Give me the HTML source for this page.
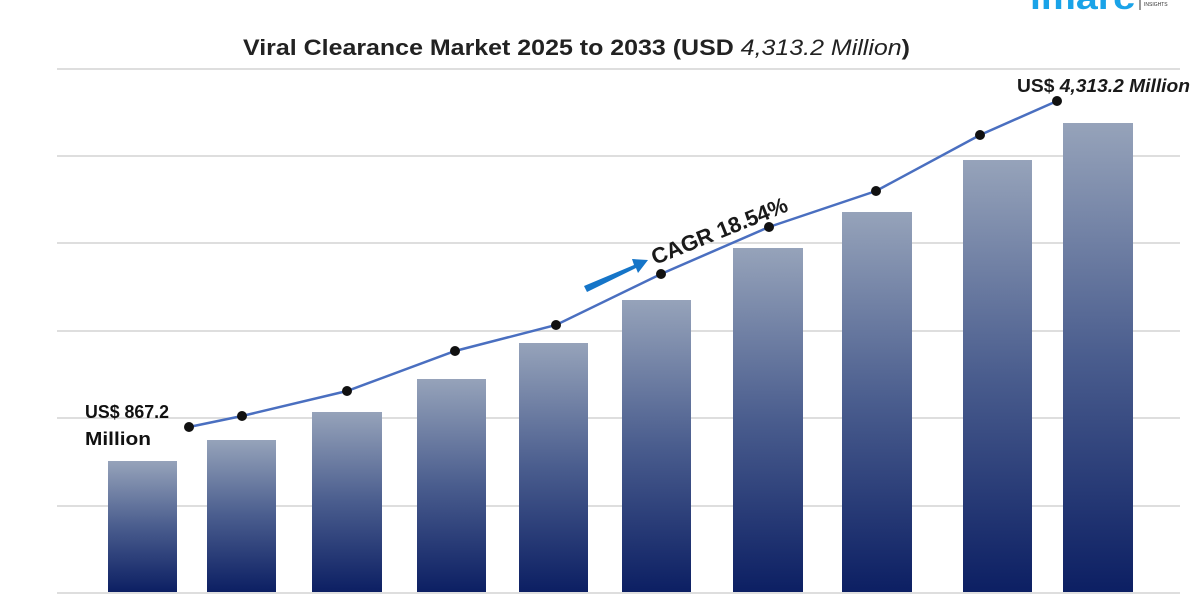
<!DOCTYPE html>
<html><head><style>
body{margin:0;background:#fff;}
svg{display:block;}
</style></head><body>
<svg width="1200" height="600" xmlns="http://www.w3.org/2000/svg">
<defs>
<linearGradient id="g" x1="0" y1="0" x2="0" y2="1">
<stop offset="0" stop-color="#96a3ba"/>
<stop offset="0.5" stop-color="#4a5d8e"/>
<stop offset="1" stop-color="#0c1f63"/>
</linearGradient>
</defs>
<rect width="1200" height="600" fill="#fff"/>
<text x="1030" y="9" font-family="Liberation Sans, sans-serif" font-size="32" font-weight="bold" fill="#1aa3e8" textLength="105" lengthAdjust="spacingAndGlyphs">imarc</text>
<line x1="1140" y1="0" x2="1140" y2="10" stroke="#333" stroke-width="1"/>
<text x="1144" y="6" font-family="Liberation Sans, sans-serif" font-size="5" fill="#333">INSIGHTS</text>
<text x="243" y="55" font-family="Liberation Sans, sans-serif" font-size="22" font-weight="bold" fill="#222" textLength="667" lengthAdjust="spacingAndGlyphs">Viral Clearance Market  2025 to 2033 (USD <tspan font-style="italic" font-weight="normal">4,313.2 Million</tspan>)</text>
<g stroke="#d4d4d4" stroke-width="1.5">
<line x1="57" y1="69" x2="1180" y2="69"/>
<line x1="57" y1="156" x2="1180" y2="156"/>
<line x1="57" y1="243" x2="1180" y2="243"/>
<line x1="57" y1="331" x2="1180" y2="331"/>
<line x1="57" y1="418" x2="1180" y2="418"/>
<line x1="57" y1="506" x2="1180" y2="506"/>
<line x1="57" y1="593" x2="1180" y2="593"/>
</g>
<g fill="url(#g)">
<rect x="108" y="461" width="69" height="131"/>
<rect x="207" y="440" width="69" height="152"/>
<rect x="312" y="412" width="70" height="180"/>
<rect x="417" y="379" width="69" height="213"/>
<rect x="519" y="343" width="69" height="249"/>
<rect x="622" y="300" width="69" height="292"/>
<rect x="733" y="248" width="70" height="344"/>
<rect x="842" y="212" width="70" height="380"/>
<rect x="963" y="160" width="69" height="432"/>
<rect x="1063" y="123" width="70" height="469"/>
</g>
<polyline points="189,427 242,416 347,391 455,351 556,325 661,274 769,227 876,191 980,135 1057,101" fill="none" stroke="#4a6fc0" stroke-width="2.5"/>
<g fill="#111">
<circle cx="189" cy="427" r="5"/><circle cx="242" cy="416" r="5"/><circle cx="347" cy="391" r="5"/><circle cx="455" cy="351" r="5"/><circle cx="556" cy="325" r="5"/><circle cx="661" cy="274" r="5"/><circle cx="769" cy="227" r="5"/><circle cx="876" cy="191" r="5"/><circle cx="980" cy="135" r="5"/><circle cx="1057" cy="101" r="5"/>
</g>
<polygon points="584,286 634,265 632,259 648,260 638,273 636,268 587,292" fill="#1575c8"/>
<text x="655" y="265" transform="rotate(-22 655 265)" font-family="Liberation Sans, sans-serif" font-size="22" font-weight="bold" fill="#1a1a1a" textLength="145">CAGR 18.54%</text>
<text x="85" y="418" font-family="Liberation Sans, sans-serif" font-size="18" font-weight="bold" fill="#111" textLength="84" lengthAdjust="spacingAndGlyphs">US$ 867.2</text>
<text x="85" y="445" font-family="Liberation Sans, sans-serif" font-size="18" font-weight="bold" fill="#111" textLength="66" lengthAdjust="spacingAndGlyphs">Million</text>
<text x="1017" y="92" font-family="Liberation Sans, sans-serif" font-size="18" font-weight="bold" fill="#1a1a1a" textLength="173" lengthAdjust="spacingAndGlyphs">US$ <tspan font-style="italic">4,313.2 Million</tspan></text>
</svg>
</body></html>
